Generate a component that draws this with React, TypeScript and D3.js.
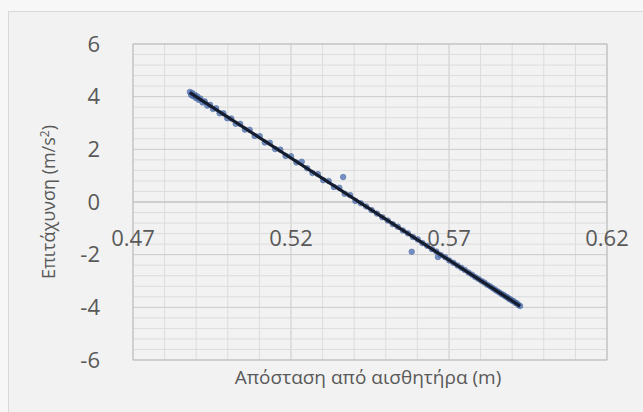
import * as d3 from "d3";

// distance from sensor (m) and acceleration (m/s^2)
const distance = [
  0.488, 0.4884, 0.4887, 0.4891, 0.4895, 0.4899, 0.4903, 0.4908, 0.4913, 0.492,
  0.4927, 0.4935, 0.4944, 0.4953, 0.4963, 0.4974, 0.4986, 0.4998, 0.5011, 0.5025,
  0.5039, 0.5054, 0.5069, 0.5085, 0.5101, 0.5117, 0.5133, 0.515, 0.5166, 0.5183,
  0.52, 0.5217, 0.5234, 0.5251, 0.5268, 0.5285, 0.5302, 0.5319, 0.5336, 0.5353,
  0.5365, 0.537, 0.5387, 0.5404, 0.5421, 0.5438, 0.5455, 0.5472, 0.5489, 0.5506,
  0.5522, 0.5538, 0.5554, 0.557, 0.5582, 0.5586, 0.5601, 0.5616, 0.5631, 0.5646,
  0.566, 0.5665, 0.5674, 0.5688, 0.5701, 0.5714, 0.5727, 0.5739, 0.575, 0.5762,
  0.5773, 0.5783, 0.5793, 0.5803, 0.5812, 0.5821, 0.583, 0.5838, 0.5846, 0.5853,
  0.586, 0.5867, 0.5873, 0.5879, 0.5885, 0.589, 0.5895, 0.59, 0.5905, 0.591,
  0.5915, 0.592, 0.5925,
];
const acceleration = [
  4.18, 4.06, 4.14, 4.02, 4.07, 3.95, 4.01, 3.88, 3.93, 3.78,
  3.82, 3.66, 3.69, 3.53, 3.56, 3.37, 3.37, 3.18, 3.17, 2.97,
  2.97, 2.75, 2.74, 2.51, 2.5, 2.26, 2.25, 2.01, 1.99, 1.75,
  1.74, 1.5, 1.53, 1.28, 1.1, 1.06, 0.83, 0.8, 0.57, 0.54,
  0.95, 0.31, 0.26, 0.04, -0.05, -0.17, -0.31, -0.44, -0.58, -0.7,
  -0.84, -0.94, -1.08, -1.19, -1.89, -1.33, -1.42, -1.56, -1.66, -1.79,
  -1.88, -2.09, -2.01, -2.1, -2.22, -2.31, -2.41, -2.5, -2.58, -2.68,
  -2.76, -2.85, -2.92, -3.0, -3.06, -3.14, -3.2, -3.27, -3.33, -3.39,
  -3.44, -3.5, -3.53, -3.59, -3.62, -3.68, -3.7, -3.75, -3.77, -3.83,
  -3.85, -3.91, -3.95,
];
const xTicks = [0.47, 0.52, 0.57, 0.62];
const yTicks = [-6, -4, -2, 0, 2, 4, 6];

const W = 643;
const H = 412;
const font = "'Open Sans', sans-serif";

export default function App() {
  const x = d3.scaleLinear().domain([0.47, 0.62]).range([133, 607]);
  const y = d3.scaleLinear().domain([-6, 6]).range([360, 44]);

  const xMinor = d3.range(0.47, 0.6201, 0.01);
  const yMinor = d3.range(-6, 6.001, 0.4);

  // least-squares trendline over the plotted points
  const mx = d3.mean(distance)!;
  const my = d3.mean(acceleration)!;
  let sxy = 0;
  let sxx = 0;
  distance.forEach((d, i) => {
    sxy += (d - mx) * (acceleration[i] - my);
    sxx += (d - mx) * (d - mx);
  });
  const slope = sxy / sxx;
  const x0 = d3.min(distance)!;
  const x1 = d3.max(distance)!;
  const line = d3
    .line<number>()
    .x((d) => x(d))
    .y((d) => y(my + slope * (d - mx)));

  return (
    <svg
      width={W}
      height={H}
      style={{ position: "absolute", left: 0, top: 0, background: "#f7f7f7" }}
    >
      <rect x={8.5} y={11.5} width={W} height={H} fill="#f2f2f2" stroke="#d9d9d9" />

      <g>
        {xMinor.map((v, i) => (
          <line
            key={"xm" + i}
            x1={x(v)}
            x2={x(v)}
            y1={y(-6)}
            y2={y(6)}
            stroke={i % 5 === 0 ? "#cacaca" : "#dcdcdc"}
          />
        ))}
        {yMinor.map((v, i) => (
          <line
            key={"ym" + i}
            x1={x(0.47)}
            x2={x(0.62)}
            y1={y(v)}
            y2={y(v)}
            stroke={i % 5 === 0 ? "#cacaca" : "#dcdcdc"}
          />
        ))}
        <rect
          x={x(0.47)}
          y={y(6)}
          width={x(0.62) - x(0.47)}
          height={y(-6) - y(6)}
          fill="none"
          stroke="#bfbfbf"
        />
        <line x1={x(0.47)} x2={x(0.62)} y1={y(0)} y2={y(0)} stroke="#bfbfbf" />
      </g>

      <g fill="#595959" fontFamily={font} fontSize={22}>
        {yTicks.map((t) => (
          <text key={t} x={100} y={y(t)} dy="0.35em" textAnchor="end">
            {t}
          </text>
        ))}
        {xTicks.map((t) => (
          <text key={t} x={x(t)} y={246} textAnchor="middle">
            {t.toFixed(2)}
          </text>
        ))}
      </g>

      <g>
        {distance.map((d, i) => (
          <circle
            key={i}
            cx={x(d)}
            cy={y(acceleration[i])}
            r={2.8}
            fill="#5577b8"
            stroke="#34558f"
            strokeWidth={0.6}
            opacity={0.8}
          />
        ))}
      </g>

      <path d={line([x0, x1]) ?? ""} stroke="#141c2e" strokeWidth={3.2} fill="none" />

      <text
        x={368}
        y={384}
        textAnchor="middle"
        fontFamily={font}
        fontSize={19}
        fill="#595959"
      >
        Απόσταση από αισθητήρα (m)
      </text>
      <text
        transform={`translate(55,202) rotate(-90)`}
        textAnchor="middle"
        fontFamily={font}
        fontSize={18}
        fill="#595959"
      >
        Επιτάχυνση (m/s<tspan dy={-6} fontSize={12}>2</tspan>
        <tspan dy={6}>)</tspan>
      </text>
    </svg>
  );
}
